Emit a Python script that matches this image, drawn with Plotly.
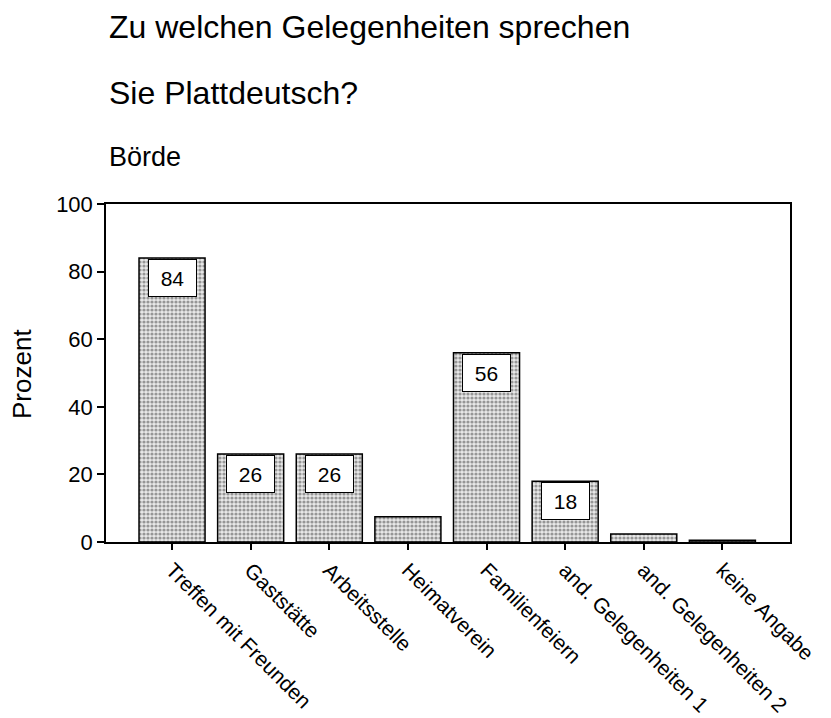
import plotly.graph_objects as go

# Data
categories = ["Treffen mit Freunden", "Gaststätte", "Arbeitsstelle", "Heimatverein",
              "Familienfeiern", "and. Gelegenheiten 1", "and. Gelegenheiten 2", "keine Angabe"]
values = [84, 26, 26, 7.5, 56, 18, 2.4, 0.5]
labelled = [True, True, True, False, True, True, False, False]

W, H = 831, 718
OFF = 8  # default page body margin
L, T = 106 - OFF, 204 - OFF
PW, PH = 684, 338
R, B = W - L - PW, H - T - PH
FONT = "Liberation Sans, Arial, sans-serif"


def px(x):
    return (x - OFF - L) / PW


def py(y):
    return (T + PH - (y - OFF)) / PH


fig = go.Figure()
fig.add_trace(go.Bar(
    x=list(range(len(categories))),
    y=values,
    width=0.84,
    marker=dict(
        color="#d9d9d9",
        line=dict(color="black", width=1.5),
        pattern=dict(shape=".", fgcolor="#444444", bgcolor="#e8e8e8", size=4, solidity=0.5),
    ),
    hoverinfo="x+y",
))

# value boxes at the top of bars
for i, (v, show) in enumerate(zip(values, labelled)):
    if show:
        fig.add_annotation(
            x=i, y=v, xref="x", yref="y", text=str(v), showarrow=False,
            yanchor="top", xanchor="center", yshift=-1,
            font=dict(family=FONT, size=21, color="black"),
            bgcolor="white", bordercolor="black", borderwidth=1, borderpad=1,
            width=45, height=34,
        )

# titles
for txt, ypix, size in [("Zu welchen Gelegenheiten sprechen", 27, 32),
                        ("Sie Plattdeutsch?", 93, 32),
                        ("Börde", 157, 27)]:
    fig.add_annotation(text=txt, xref="paper", yref="paper", x=px(107),
                       y=py(ypix), xanchor="left", yanchor="middle", showarrow=False,
                       font=dict(family=FONT, size=size, color="black"))

fig.add_annotation(text="Prozent", xref="paper", yref="paper", x=px(22),
                   y=py(374), textangle=-90, showarrow=False, xanchor="center",
                   yanchor="middle", font=dict(family=FONT, size=26, color="black"))

fig.update_layout(
    width=W, height=H,
    margin=dict(l=L, r=R, t=T, b=B),
    plot_bgcolor="white", paper_bgcolor="white",
    showlegend=False,
    xaxis=dict(
        range=[-0.84, 7.86],
        tickmode="array", tickvals=list(range(len(categories))), ticktext=categories,
        tickangle=45, ticks="outside", ticklen=6, tickwidth=2, tickcolor="black",
        showline=True, linecolor="black", linewidth=1.5, mirror=True,
        showgrid=False, zeroline=False, automargin=False,
        tickfont=dict(family=FONT, size=21, color="black"),
    ),
    yaxis=dict(
        range=[0, 100], tickvals=[0, 20, 40, 60, 80, 100],
        ticks="outside", ticklen=7, tickwidth=2, tickcolor="black",
        showline=True, linecolor="black", linewidth=1.5, mirror=True,
        showgrid=False, zeroline=False, automargin=False,
        tickfont=dict(family=FONT, size=22, color="black"),
    ),
)

fig.write_html("out.html")
